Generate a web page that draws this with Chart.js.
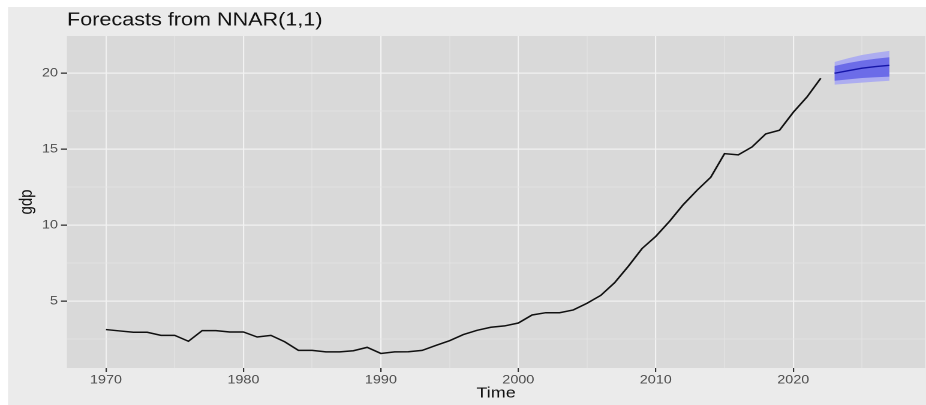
<!DOCTYPE html>
<html>
<head>
<meta charset="utf-8">
<script src="https://cdn.jsdelivr.net/npm/chart.js"></script>
<style>
  html, body { margin: 0; padding: 0; background: #ffffff; overflow: hidden; }
  /* the reference is a slightly stretched screenshot, so the chart is drawn narrower and widened */
  #wrap { width: 772px; height: 405px; transform: scaleX(1.19948); transform-origin: 0 0; }
</style>
</head>
<body>
<div id="wrap"><canvas id="gdpChart"></canvas></div>
<script>
// observed series, 1970 - 2022
const years = [1970,1971,1972,1973,1974,1975,1976,1977,1978,1979,
               1980,1981,1982,1983,1984,1985,1986,1987,1988,1989,
               1990,1991,1992,1993,1994,1995,1996,1997,1998,1999,
               2000,2001,2002,2003,2004,2005,2006,2007,2008,2009,
               2010,2011,2012,2013,2014,2015,2016,2017,2018,2019,
               2020,2021,2022];
const gdp = [3.12,3.03,2.94,2.94,2.74,2.74,2.35,3.05,3.05,2.96,
             2.96,2.63,2.74,2.32,1.75,1.75,1.65,1.65,1.73,1.95,
             1.55,1.65,1.66,1.75,2.08,2.39,2.79,3.07,3.27,3.36,
             3.55,4.08,4.23,4.23,4.41,4.85,5.37,6.20,7.28,8.45,
             9.25,10.24,11.34,12.28,13.14,14.69,14.61,15.13,15.99,16.23,
             17.41,18.42,19.65];

// NNAR(1,1) forecast, 2023 - 2027
const fcYears = [2023,2024,2025,2026,2027];
const fcMean = [19.98,20.15,20.31,20.42,20.50];
const fcHi80 = [20.46,20.65,20.81,20.93,21.03];
const fcLo80 = [19.49,19.58,19.67,19.72,19.76];
const fcHi95 = [20.72,20.97,21.18,21.33,21.45];
const fcLo95 = [19.23,19.30,19.36,19.43,19.49];

const xTicks = [1970,1975,1980,1985,1990,1995,2000,2005,2010,2015,2020,2025];
const yTicks = [2.5,5,7.5,10,12.5,15,17.5,20];

function pts(xs, ys) {
    return xs.map((x, i) => ({x: x, y: ys[i]}));
}

// grey ggplot backgrounds
const ggBackground = {
    id: 'ggBackground',
    beforeDraw(chart) {
        const {ctx, chartArea, width, height} = chart;
        ctx.save();
        ctx.fillStyle = '#ffffff';
        ctx.fillRect(0, 0, width, height);
        ctx.fillStyle = '#EBEBEB';
        ctx.fillRect(6.67, 7, width, height);
        ctx.fillStyle = '#D9D9D9';
        ctx.fillRect(chartArea.left, chartArea.top, chartArea.right - chartArea.left, chartArea.bottom - chartArea.top);
        ctx.restore();
    }
};

const isMajorX = v => v % 10 === 0;
const isMajorY = v => v % 5 === 0;

const ctx = document.getElementById('gdpChart').getContext('2d');
const gdpChart = new Chart(ctx, {
    type: 'line',
    data: {
        datasets: [
            { label: 'hi95', data: pts(fcYears, fcHi95), borderWidth: 0, pointRadius: 0,
              backgroundColor: '#ADADF0', fill: '+1', order: 5 },
            { label: 'lo95', data: pts(fcYears, fcLo95), borderWidth: 0, pointRadius: 0,
              fill: false, order: 5 },
            { label: 'hi80', data: pts(fcYears, fcHi80), borderWidth: 0, pointRadius: 0,
              backgroundColor: '#6C6CE8', fill: '+1', order: 4 },
            { label: 'lo80', data: pts(fcYears, fcLo80), borderWidth: 0, pointRadius: 0,
              fill: false, order: 4 },
            { label: 'mean', data: pts(fcYears, fcMean), borderColor: '#1515A8', borderWidth: 1.4,
              pointRadius: 0, fill: false, order: 1 },
            { label: 'gdp', data: pts(years, gdp), borderColor: '#111111', borderWidth: 1.5,
              pointRadius: 0, fill: false, order: 0 }
        ]
    },
    options: {
        responsive: true,
        maintainAspectRatio: false,
        animation: false,
        devicePixelRatio: 2,
        layout: { padding: 0 },
        plugins: {
            legend: { display: false },
            tooltip: { enabled: false },
            title: {
                display: true,
                text: 'Forecasts from NNAR(1,1)',
                align: 'start',
                fullSize: false,
                color: '#111111',
                font: { family: '"Liberation Sans", Arial, sans-serif', size: 18, weight: 'normal' },
                padding: { top: 9.7, bottom: 4.7 }
            }
        },
        scales: {
            x: {
                type: 'linear',
                min: 1967.166,
                max: 2029.593,
                afterBuildTicks: s => { s.ticks = xTicks.map(v => ({value: v})); },
                afterFit: s => { s.height = 37; },
                border: { display: false },
                grid: {
                    color: c => isMajorX(c.tick.value) ? '#F2F2F2' : '#E5E5E5',
                    lineWidth: c => isMajorX(c.tick.value) ? 1.1 : 0.6,
                    tickColor: c => isMajorX(c.tick.value) ? '#333333' : 'rgba(0,0,0,0)',
                    tickLength: 4
                },
                ticks: {
                    maxRotation: 0,
                    autoSkip: false,
                    padding: 1,
                    color: '#4D4D4D',
                    font: { family: '"Liberation Sans", Arial, sans-serif', size: 12 },
                    callback: v => isMajorX(v) ? String(v) : ''
                },
                title: {
                    display: true,
                    text: 'Time',
                    color: '#111111',
                    font: { family: '"Liberation Sans", Arial, sans-serif', size: 15 },
                    padding: { top: 0, bottom: 2.5 }
                }
            },
            y: {
                min: 0.592,
                max: 22.43,
                afterBuildTicks: s => { s.ticks = yTicks.map(v => ({value: v})); },
                afterFit: s => { s.width = 55.86; },
                border: { display: false },
                grid: {
                    color: c => isMajorY(c.tick.value) ? '#F2F2F2' : '#E5E5E5',
                    lineWidth: c => isMajorY(c.tick.value) ? 1.3 : 0.7,
                    tickColor: c => isMajorY(c.tick.value) ? '#333333' : 'rgba(0,0,0,0)',
                    tickLength: 5
                },
                ticks: {
                    padding: 2.5,
                    color: '#4D4D4D',
                    font: { family: '"Liberation Sans", Arial, sans-serif', size: 12 },
                    callback: v => isMajorY(v) ? String(v) : ''
                },
                title: {
                    display: true,
                    text: 'gdp',
                    color: '#111111',
                    font: { family: '"Liberation Sans", Arial, sans-serif', size: 15 },
                    padding: { top: 13.5, bottom: 0 }
                }
            }
        }
    },
    plugins: [ggBackground]
});
</script>
</body>
</html>
